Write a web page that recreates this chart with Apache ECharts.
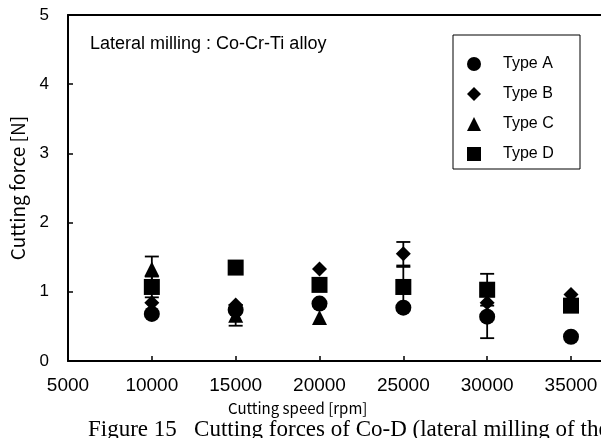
<!DOCTYPE html>
<html>
<head>
<meta charset="utf-8">
<script src="https://cdn.jsdelivr.net/npm/echarts@6/dist/echarts.min.js"></script>
<style>html,body{margin:0;padding:0;background:#fff;}#c{width:601px;height:438px;}</style>
</head>
<body>
<div id="c"></div>
<script>
// ---- data ----
const speeds = [10000, 15000, 20000, 25000, 30000, 35000];
const typeA = [0.68, 0.74, 0.83, 0.77, 0.64, 0.35];
const typeB = [0.84, 0.81, 1.33, 1.55, 0.84, 0.96];
const typeC = [1.33, 0.66, 0.63, 1.07, 1.03, 0.85];
const typeD = [1.07, 1.35, 1.10, 1.07, 1.03, 0.80];
// error (half-range) per series, 0 = none
const errA = [0, 0, 0, 0, 0.31, 0];
const errB = [0, 0, 0, 0.17, 0, 0];
const errC = [0.18, 0.15, 0, 0, 0, 0];
const errD = [0.15, 0, 0, 0.29, 0.23, 0];
const yTicks = [0, 1, 2, 3, 4, 5];
const xTicks = [5000, 10000, 15000, 20000, 25000, 30000, 35000];
const xMin = 5000, xMax = 36790; // axis continues past the right edge of the picture

const chart = echarts.init(document.getElementById('c'));

function pts(vals) { return speeds.map((s, i) => [s, vals[i]]); }
function errData() {
  const out = [];
  [[typeA, errA], [typeB, errB], [typeC, errC], [typeD, errD]].forEach(([v, e]) => {
    speeds.forEach((s, i) => { if (e[i] > 0) out.push([s, v[i] - e[i], v[i] + e[i]]); });
  });
  return out;
}

const font = '"Liberation Sans", Arial, sans-serif';
const jfont = '"Noto Sans CJK JP", "Liberation Sans", sans-serif';

function scatter(name, vals, symbol, size) {
  return {
    name: name, type: 'scatter', data: pts(vals), symbol: symbol, symbolSize: size,
    itemStyle: { color: '#000', opacity: 1 }, z: 3
  };
}

chart.setOption({
  animation: false,
  backgroundColor: '#fff',
  grid: { left: 67, top: 15, right: 0, height: 346, show: false },
  xAxis: [{
    type: 'value', min: xMin, max: xMax, interval: 5000,
    axisLine: { show: true, lineStyle: { color: '#000', width: 2 } },
    axisTick: { show: true, inside: true, length: 5, lineStyle: { color: '#000', width: 1.5 } },
    axisLabel: { color: '#000', fontSize: 19, fontFamily: font, margin: 15, showMaxLabel: false,
      formatter: v => xTicks.indexOf(v) >= 0 ? String(v) : '' },
    splitLine: { show: false }
  }, {
    type: 'value', position: 'top', min: xMin, max: xMax, interval: 5000,
    axisLine: { show: true, lineStyle: { color: '#000', width: 2 } },
    axisTick: { show: false }, axisLabel: { show: false }, splitLine: { show: false }
  }],
  yAxis: {
    type: 'value', min: 0, max: 5, interval: 1,
    name: 'Cutting force [N]', nameLocation: 'middle', nameGap: 41,
    nameTextStyle: { color: '#000', fontSize: 19, fontFamily: jfont },
    axisLine: { show: true, lineStyle: { color: '#000', width: 2 } },
    axisTick: { show: true, inside: true, length: 5, lineStyle: { color: '#000', width: 1.5 } },
    axisLabel: { color: '#000', fontSize: 17, fontFamily: font, margin: 19,
      formatter: v => yTicks.indexOf(v) >= 0 ? String(v) : '' },
    splitLine: { show: false }
  },
  legend: {
    orient: 'vertical', left: 467, top: 56, padding: 0,
    itemWidth: 14, itemHeight: 14, itemGap: 14,
    data: ['Type A', 'Type B', 'Type C', 'Type D'],
    textStyle: { color: '#000', fontSize: 16, fontFamily: font, lineHeight: 14, height: 14, padding: [0, 0, 0, 17] }
  },
  graphic: [
    { type: 'rect', shape: { x: 453, y: 35, width: 127, height: 134 }, style: { fill: 'none', stroke: '#000', lineWidth: 1 }, z: 1 },
    { type: 'text', left: 90, top: 35, style: { text: 'Lateral milling : Co-Cr-Ti alloy', fill: '#000', font: '18px ' + font } },
    { type: 'text', left: 228, top: 401, style: { text: 'Cutting speed [rpm]', fill: '#000', font: '15px ' + jfont } },
    { type: 'text', left: 88, top: 418, style: { text: 'Figure 15   Cutting forces of Co-D (lateral milling of the', fill: '#000', font: '23px "Liberation Serif", serif' } }
  ],
  series: [
    {
      type: 'custom', name: 'err', z: 2, silent: true,
      data: errData(),
      renderItem: function (params, api) {
        const x = api.value(0);
        const lo = api.coord([x, api.value(1)]);
        const hi = api.coord([x, api.value(2)]);
        const w = 7;
        const st = { stroke: '#000', lineWidth: 1.8 };
        return { type: 'group', children: [
          { type: 'line', shape: { x1: lo[0], y1: lo[1], x2: hi[0], y2: hi[1] }, style: st },
          { type: 'line', shape: { x1: lo[0] - w, y1: lo[1], x2: lo[0] + w, y2: lo[1] }, style: st },
          { type: 'line', shape: { x1: hi[0] - w, y1: hi[1], x2: hi[0] + w, y2: hi[1] }, style: st }
        ] };
      }
    },
    scatter('Type A', typeA, 'circle', 16),
    scatter('Type B', typeB, 'diamond', 15),
    scatter('Type C', typeC, 'triangle', 15),
    scatter('Type D', typeD, 'rect', 16)
  ]
});
</script>
</body>
</html>
